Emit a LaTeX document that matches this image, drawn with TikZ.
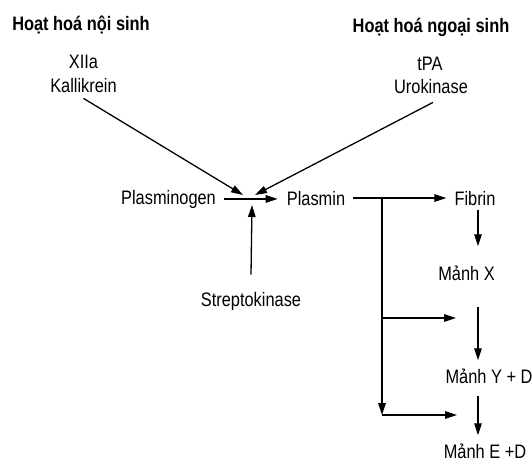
\documentclass[tikz,border=0pt]{standalone}
\usepackage{fontspec}
\setmainfont{Liberation Sans}[FakeStretch=0.84]
\usetikzlibrary{arrows.meta}

\begin{document}
\begin{tikzpicture}[x=1pt,y=-1pt,
    txt/.style={font=\fontsize{19.5}{22}\selectfont, inner sep=0pt, anchor=base},
    ttl/.style={font=\bfseries\fontsize{19.5}{22}\selectfont, inner sep=0pt, anchor=base},
    arr/.style={-{Triangle[length=12pt,width=7.5pt]}, line width=1.3pt},
    ]
    \useasboundingbox (0,0) rectangle (532,464);
    % headings
    \node[ttl] (intr) at (81,30) {Hoạt hoá nội sinh};
    \node[ttl] (extr) at (431,32) {Hoạt hoá ngoại sinh};
    % activators
    \node[txt] (xiia) at (83.5,68) {XIIa};
    \node[txt] (kal)  at (83.5,92) {Kallikrein};
    \node[txt] (tpa)  at (430,70)  {tPA};
    \node[txt] (uro)  at (431,93)  {Urokinase};
    \node[txt] (plg)  at (168.5,204) {Plasminogen};
    \node[txt] (pls)  at (316,205) {Plasmin};
    \node[txt] (strep) at (251,306) {Streptokinase};
    % fibrin breakdown
    \node[txt] (fib) at (475,205) {Fibrin};
    \node[txt] (mx)  at (466.5,280) {Mảnh X};
    \node[txt] (myd) at (489,383) {Mảnh Y + D};
    \node[txt] (med) at (485,458) {Mảnh E +D};
    % junctions
    \coordinate (j1) at (243,195);
    \coordinate (j2) at (255,195);
    \coordinate (j3) at (252,205);
    \coordinate (br0) at (382,198);
    \coordinate (br1) at (382,318);
    \coordinate (br2) at (382,415);
    \coordinate (e1) at (456,318);
    \coordinate (e2) at (457,415);
    % lines
    \draw[arr] ([yshift=-6pt]kal.south) -- (j1);
    \draw[arr] ([xshift=2pt,yshift=-9pt]uro.south) -- (j2);
    \draw[arr, shorten <=8pt, shorten >=9pt] (plg.east) -- (plg.east -| pls.west);
    \draw[arr] ([yshift=17pt]strep.north) -- (j3);
    \draw[arr, shorten <=8pt, shorten >=8pt] (pls.east) -- (pls.east -| fib.west);
    \draw[arr] (br0) -- (br2);
    \draw[arr] (br1) -- (e1);
    \draw[arr] (br2) -- (e2);
    \draw[arr, shorten <=5pt, shorten >=19pt] ([xshift=3pt]fib.south) -- ([xshift=11.5pt]mx.north);
    \draw[arr, shorten <=27pt, shorten >=8pt] ([xshift=11.5pt]mx.south) -- ([xshift=-11pt]myd.north);
    \draw[arr, shorten <=13pt, shorten >=8pt] ([xshift=-11pt]myd.south) -- ([xshift=-7pt]med.north);
\end{tikzpicture}
\end{document}
